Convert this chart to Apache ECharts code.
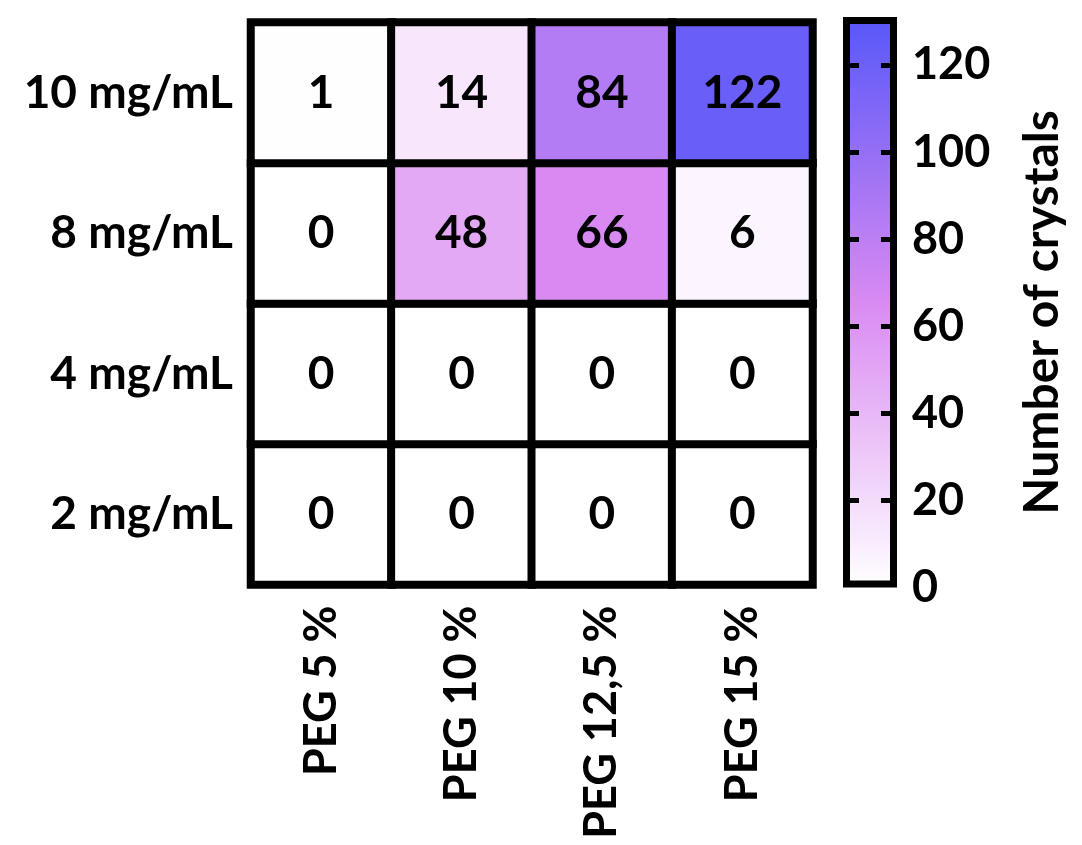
<!DOCTYPE html>
<html>
<head>
<meta charset="utf-8">
<script src="https://cdn.jsdelivr.net/npm/echarts@6/dist/echarts.min.js"></script>
<style>
  html, body { margin: 0; padding: 0; background: #fff; }
  #main { width: 1082px; height: 845px; }
</style>
</head>
<body>
<div id="main"></div>
<script>
// categories
var pegLevels = ['PEG 5 %', 'PEG 10 %', 'PEG 12,5 %', 'PEG 15 %'];
var concLevels = ['2 mg/mL', '4 mg/mL', '8 mg/mL', '10 mg/mL'];

// crystal counts, one row per concentration (bottom to top), columns follow pegLevels
var row2 = [0, 0, 0, 0];
var row4 = [0, 0, 0, 0];
var row8 = [0, 48, 66, 6];
var row10 = [1, 14, 84, 122];

// colour scale
var colorMin = 0;
var colorMax = 131;
var colorTicks = [0, 20, 40, 60, 80, 100, 120];
var colorStops = ['#ffffff', '#d98af2', '#5757f8'];

var FONT = 'Lato';
var WEIGHT = 'bold';

var heatData = [];
[row2, row4, row8, row10].forEach(function (row, y) {
  row.forEach(function (v, x) {
    heatData.push([x, y, v]);
  });
});

var gradient = new echarts.graphic.LinearGradient(0, 1, 0, 0, colorStops.map(function (c, i) {
  return { offset: i / (colorStops.length - 1), color: c };
}));

// tick stubs inside the bar, none at 0 (bottom edge)
var stubTicks = colorTicks.filter(function (v) { return v > colorMin; });

var chart = echarts.init(document.getElementById('main'));

var option = {
  backgroundColor: '#ffffff',
  animation: false,
  textStyle: { fontFamily: FONT },
  grid: [
    { left: 251, right: 269.5, top: 22.5, bottom: 260.5 },
    // colour bar box, border drawn inside the bar
    { left: 843, width: 54, top: 17, bottom: 257.5 }
  ],
  xAxis: [
    {
      type: 'category',
      gridIndex: 0,
      data: pegLevels,
      axisLine: { show: false },
      axisTick: { show: false },
      axisLabel: {
        rotate: 90,
        margin: 21,
        fontSize: 45,
        fontWeight: WEIGHT,
        color: '#000',
        fontFamily: FONT
      }
    },
    {
      type: 'category',
      gridIndex: 1,
      data: ['scale'],
      show: false
    }
  ],
  yAxis: [
    {
      type: 'category',
      gridIndex: 0,
      data: concLevels,
      axisLine: { show: false },
      axisTick: { show: false },
      axisLabel: {
        margin: 18,
        fontSize: 46,
        fontWeight: WEIGHT,
        color: '#000',
        fontFamily: FONT
      }
    },
    {
      type: 'value',
      gridIndex: 1,
      position: 'right',
      min: colorMin,
      max: colorMax,
      interval: 20,
      z: 5,
      splitLine: { show: false },
      axisLine: { show: false },
      axisTick: {
        show: true, inside: true, length: 16,
        customValues: stubTicks,
        lineStyle: { color: '#000', width: 5 }
      },
      axisLabel: {
        margin: 15,
        fontSize: 45,
        fontWeight: WEIGHT,
        color: '#000',
        fontFamily: FONT,
        customValues: colorTicks
      },
      name: 'Number of crystals',
      nameLocation: 'middle',
      nameRotate: 90,
      nameGap: 122,
      nameTextStyle: {
        fontSize: 48, fontWeight: WEIGHT, color: '#000', fontFamily: FONT,
        padding: [0, 20, 0, 0]
      }
    },
    {
      type: 'value',
      gridIndex: 1,
      position: 'left',
      min: colorMin,
      max: colorMax,
      interval: 20,
      z: 5,
      splitLine: { show: false },
      axisLine: { show: false },
      axisTick: {
        show: true, inside: true, length: 16,
        customValues: stubTicks,
        lineStyle: { color: '#000', width: 5 }
      },
      axisLabel: { show: false }
    }
  ],
  visualMap: {
    show: false,
    type: 'continuous',
    seriesIndex: 0,
    min: colorMin,
    max: colorMax,
    inRange: { color: colorStops }
  },
  series: [
    {
      type: 'heatmap',
      xAxisIndex: 0,
      yAxisIndex: 0,
      data: heatData,
      itemStyle: { borderColor: '#000', borderWidth: 8 },
      label: {
        show: true,
        fontSize: 46,
        fontWeight: WEIGHT,
        color: '#000',
        fontFamily: FONT
      },
      emphasis: { disabled: true }
    },
    {
      type: 'bar',
      xAxisIndex: 1,
      yAxisIndex: 1,
      data: [colorMax],
      barWidth: '100%',
      itemStyle: { color: gradient, borderColor: '#000', borderWidth: 7 },
      silent: true
    }
  ]
};

chart.setOption(option);
</script>
</body>
</html>
